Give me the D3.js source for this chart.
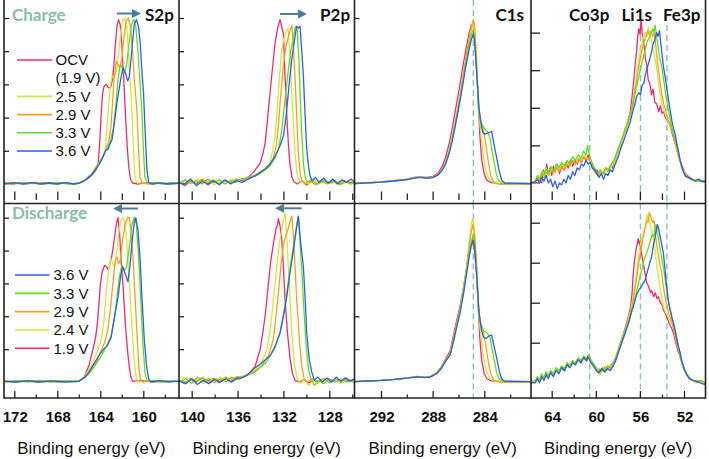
<!DOCTYPE html>
<html><head><meta charset="utf-8">
<script src="https://cdn.jsdelivr.net/npm/d3@7"></script>
<style>body{margin:0;background:#fff}svg{display:block}</style>
</head><body><svg id="c" width="709" height="459"></svg>
<script>
// ---------- tick labels ----------
const S2P_MAJOR=[172,168,164,160], S2P_MINOR=[170,166,162,158];
const P2P_MAJOR=[140,136,132,128], P2P_MINOR=[138,134,130,126];
const C1S_MAJOR=[292,288,284], C1S_MINOR=[290,286,282];
const LI_MAJOR=[64,60,56,52], LI_MINOR=[62,58,54];
const Y_TICKS=[0.2,0.4,0.6,0.8,1.0], Y_TICKS_LI=[0.2,0.4,0.6,0.8];
const C1S_REF=[284.85], LI_REFS=[60.55,55.95,53.55];
const PANEL_TITLES=["S2p","P2p","C1s"], LI_TITLES=["Co3p","Li1s","Fe3p"];
const ROW_TITLES=["Charge","Discharge"];
const AXIS_TITLE="Binding energy (eV)";
const CHARGE_LABELS=["OCV\n(1.9 V)","2.5 V","2.9 V","3.3 V","3.6 V"];
const DISCHARGE_LABELS=["3.6 V","3.3 V","2.9 V","2.4 V","1.9 V"];

// ---------- S2p charge ----------
const S2P_CHG_OCV=[[172.9,0.006],[172.2,0],[171.5,0.01],[170.8,0.002],[170.1,0.009],[169.4,0],[168.7,0.008],[168,0.001],[167.3,0.007],[166.6,0],[166,0.006],[165.5,0.02],[165.1,0.035],[164.7,0.06],[164.4,0.085],[164.2,0.12],[164.05,0.25],[163.92,0.42],[163.8,0.54],[163.65,0.59],[163.45,0.6],[163.25,0.58],[163.05,0.58],[162.9,0.62],[162.75,0.7],[162.6,0.84],[162.45,0.95],[162.3,0.99],[162.15,0.96],[162,0.84],[161.83,0.65],[161.65,0.4],[161.5,0.23],[161.35,0.1],[161.2,0.03],[161,0.006],[160.5,0],[159.8,0.008],[159.1,0],[158.4,0.007],[157.7,0],[156.6,0.005]];
const S2P_CHG_25=[[172.9,0],[172.1,0.009],[171.3,0.002],[170.5,0.01],[169.7,0],[168.9,0.007],[168.1,0],[167.3,0.009],[166.5,0],[166,0.005],[165.4,0.025],[164.8,0.06],[164.3,0.11],[163.9,0.15],[163.65,0.18],[163.52,0.22],[163.37,0.35],[163.2,0.5],[163.05,0.6],[162.9,0.65],[162.7,0.64],[162.5,0.68],[162.3,0.78],[162.1,0.92],[161.9,0.99],[161.75,1.0],[161.55,0.95],[161.4,0.82],[161.25,0.65],[161.06,0.45],[160.95,0.28],[160.85,0.12],[160.75,0.03],[160.55,0.005],[160,0.008],[159.2,0],[158.4,0.01],[157.6,0],[156.6,0.006]];
const S2P_CHG_29=[[172.9,0.008],[172,0],[171.1,0.01],[170.2,0.003],[169.3,0.009],[168.4,0],[167.5,0.008],[166.6,0],[166,0.005],[165.4,0.025],[164.8,0.06],[164.3,0.11],[163.9,0.15],[163.5,0.2],[163.2,0.26],[163,0.35],[162.85,0.5],[162.7,0.65],[162.5,0.74],[162.35,0.72],[162.2,0.7],[162,0.75],[161.8,0.88],[161.6,0.98],[161.4,1.0],[161.2,0.95],[161,0.8],[160.8,0.6],[160.6,0.45],[160.45,0.22],[160.3,0.04],[160.1,0.006],[159.5,0],[158.7,0.009],[157.9,0],[157.1,0.008],[156.6,0.002]];
const S2P_CHG_33=[[172.9,0.002],[172,0.01],[171,0],[170,0.009],[169,0.001],[168,0.01],[167,0],[166,0.005],[165.4,0.025],[164.8,0.06],[164.3,0.11],[163.9,0.15],[163.5,0.2],[163.1,0.25],[162.8,0.33],[162.55,0.48],[162.35,0.63],[162.15,0.72],[161.95,0.7],[161.75,0.67],[161.55,0.72],[161.35,0.83],[161.1,0.96],[160.9,0.99],[160.7,0.95],[160.5,0.8],[160.3,0.6],[160.14,0.45],[160,0.22],[159.85,0.04],[159.6,0.005],[159,0.009],[158.2,0],[157.4,0.01],[156.6,0]];
const S2P_CHG_36=[[172.9,0],[172,0.007],[171.2,0],[170.4,0.008],[169.6,0],[168.8,0.006],[168,0],[167.2,0.008],[166.4,0],[166,0.004],[165.4,0.022],[164.8,0.055],[164.3,0.1],[163.9,0.14],[163.5,0.2],[163.3,0.21],[163.06,0.245],[162.9,0.27],[162.75,0.34],[162.45,0.49],[162.13,0.62],[161.89,0.7],[161.67,0.67],[161.45,0.62],[161.3,0.65],[161.06,0.81],[160.85,0.96],[160.65,0.99],[160.45,0.95],[160.29,0.85],[160.1,0.65],[159.98,0.55],[159.85,0.35],[159.67,0.09],[159.5,0.01],[159.2,0],[158.5,0.007],[157.7,0],[156.6,0.006]];

// ---------- S2p discharge ----------
const S2P_DIS_19=[[172.9,0.005],[172,0],[171,0.008],[170,0],[169,0.008],[168,0],[167,0.007],[166,0.005],[165.5,0.03],[165.06,0.1],[164.75,0.18],[164.44,0.27],[164.25,0.37],[164.14,0.47],[163.98,0.6],[163.83,0.67],[163.6,0.71],[163.4,0.7],[163.25,0.68],[163.1,0.72],[162.95,0.76],[162.8,0.82],[162.6,0.92],[162.45,0.98],[162.35,1.0],[162.2,0.9],[162.05,0.72],[161.9,0.6],[161.83,0.53],[161.65,0.33],[161.45,0.18],[161.3,0.09],[161.15,0.03],[161,0.005],[160,0.008],[159,0],[158,0.007],[156.6,0.004]];
const S2P_DIS_24=[[172.9,0],[171.8,0.008],[170.6,0],[169.4,0.009],[168.2,0],[167,0.008],[166,0.005],[165.4,0.04],[164.9,0.09],[164.5,0.15],[164.2,0.2],[163.9,0.26],[163.65,0.38],[163.45,0.55],[163.25,0.68],[163,0.75],[162.85,0.72],[162.7,0.7],[162.5,0.78],[162.3,0.9],[162.1,0.98],[161.9,1.0],[161.75,0.98],[161.6,0.9],[161.4,0.72],[161.2,0.5],[161,0.28],[160.8,0.1],[160.65,0.02],[160.4,0],[159.5,0.008],[158.5,0],[157.5,0.007],[156.6,0]];
const S2P_DIS_29=[[172.9,0.007],[171.7,0],[170.5,0.009],[169.3,0],[168.1,0.008],[167,0],[166,0.004],[165.4,0.035],[164.9,0.07],[164.4,0.12],[164,0.18],[163.6,0.24],[163.3,0.32],[163.05,0.45],[162.8,0.62],[162.6,0.74],[162.45,0.76],[162.3,0.72],[162.15,0.74],[161.95,0.85],[161.7,0.96],[161.45,1.0],[161.3,1.0],[161.15,0.92],[160.95,0.75],[160.75,0.5],[160.55,0.25],[160.4,0.08],[160.25,0.01],[160,0],[159.2,0.009],[158.3,0],[157.4,0.008],[156.6,0.002]];
const S2P_DIS_33=[[172.9,0],[171.9,0.009],[170.8,0.001],[169.7,0.01],[168.6,0],[167.5,0.008],[166,0.004],[165.4,0.03],[164.9,0.06],[164.4,0.11],[163.9,0.16],[163.4,0.22],[163,0.28],[162.7,0.38],[162.45,0.52],[162.2,0.65],[161.98,0.71],[161.75,0.68],[161.55,0.7],[161.3,0.82],[161.05,0.96],[160.85,1.0],[160.65,0.96],[160.45,0.78],[160.25,0.52],[160.05,0.25],[159.85,0.06],[159.65,0.005],[159,0.009],[158,0],[157.2,0.008],[156.6,0]];
const S2P_DIS_36=[[172.9,0.004],[171.8,0],[170.7,0.008],[169.6,0],[168.5,0.007],[167.4,0],[166,0.004],[165.4,0.03],[165.06,0.06],[164.6,0.11],[164.14,0.16],[163.7,0.2],[163.37,0.22],[163,0.27],[162.75,0.37],[162.5,0.46],[162.3,0.54],[162.1,0.65],[161.92,0.7],[161.7,0.66],[161.43,0.61],[161.25,0.7],[161.05,0.85],[160.85,0.97],[160.7,1.0],[160.5,0.93],[160.3,0.75],[160.14,0.53],[159.9,0.25],[159.68,0.09],[159.5,0.02],[159.3,0],[158.5,0.008],[157.6,0],[156.6,0.006]];

// ---------- P2p charge ----------
const P2P_CHG_OCV=[[141.1,0.01],[140.6,-0.01],[140.1,0.02],[139.6,0],[139.1,0.025],[138.6,-0.005],[138.1,0.015],[137.6,0],[137.1,0.02],[136.6,0.005],[136.1,0.03],[135.6,0.02],[135.1,0.04],[134.62,0.07],[134.3,0.1],[134.04,0.125],[133.8,0.18],[133.6,0.245],[133.4,0.38],[133.17,0.55],[132.95,0.7],[132.73,0.85],[132.5,0.94],[132.3,0.99],[132.15,0.95],[132,0.9],[131.86,0.65],[131.75,0.48],[131.66,0.35],[131.55,0.22],[131.42,0.11],[131.25,0.04],[131.1,0.015],[130.8,0],[130.4,0.02],[130,-0.005],[129.5,0.015],[129,0],[128.5,0.02],[128,0.005],[127.5,0.02],[127,0],[126.5,0.015],[125.8,0.005]];
const P2P_CHG_25=[[141.1,0],[140.5,0.02],[140,0],[139.5,0.03],[139,0.01],[138.5,0.02],[138,-0.005],[137.5,0.02],[137,0.01],[136.5,0.03],[136,0.015],[135.5,0.035],[135,0.03],[134.5,0.05],[134,0.06],[133.6,0.09],[133.17,0.125],[132.95,0.2],[132.73,0.29],[132.58,0.42],[132.44,0.55],[132.3,0.68],[132.15,0.81],[131.95,0.88],[131.75,0.92],[131.6,0.94],[131.45,0.8],[131.27,0.55],[131.12,0.35],[130.99,0.19],[130.85,0.08],[130.7,0.03],[130.5,0.01],[130.2,0.02],[129.8,0],[129.3,0.025],[128.8,0.005],[128.3,0.02],[127.8,0],[127.3,0.015],[126.8,0],[126.3,0.02],[125.8,0.01]];
const P2P_CHG_29=[[141.1,0.015],[140.6,0],[140.1,0.02],[139.6,0.005],[139.1,0.03],[138.6,0.01],[138.1,0.025],[137.6,0],[137.1,0.02],[136.6,0.01],[136.1,0.03],[135.6,0.025],[135.1,0.04],[134.6,0.05],[134.1,0.07],[133.6,0.09],[133.17,0.11],[132.9,0.15],[132.6,0.24],[132.44,0.35],[132.3,0.48],[132.15,0.6],[132,0.72],[131.8,0.82],[131.6,0.88],[131.4,0.93],[131.27,0.955],[131.15,0.86],[130.99,0.65],[130.85,0.42],[130.7,0.19],[130.55,0.07],[130.4,0.02],[130.1,0],[129.7,0.02],[129.2,-0.005],[128.7,0.015],[128.2,0],[127.7,0.025],[127.2,0.005],[126.7,0.02],[126.2,0],[125.8,0.01]];
const P2P_CHG_33=[[141.1,0],[140.6,0.025],[140.1,0.005],[139.6,0.02],[139.1,0],[138.6,0.03],[138.1,0.01],[137.6,0.025],[137.1,0],[136.6,0.02],[136.1,0.01],[135.6,0.035],[135.1,0.03],[134.6,0.05],[134.1,0.065],[133.6,0.085],[133.17,0.11],[132.7,0.16],[132.4,0.22],[132.15,0.32],[131.95,0.45],[131.75,0.58],[131.55,0.7],[131.35,0.8],[131.15,0.88],[130.95,0.95],[130.8,0.93],[130.65,0.75],[130.55,0.55],[130.4,0.3],[130.26,0.125],[130.1,0.04],[129.9,0.01],[129.6,0.025],[129.1,0],[128.6,0.02],[128.1,0.005],[127.6,0.02],[127.1,-0.005],[126.6,0.015],[126.1,0],[125.8,0.015]];
const P2P_CHG_36=[[141.1,0.005],[140.6,0],[140.1,0.03],[139.6,-0.01],[139.1,0.015],[138.6,0],[138.1,0.02],[137.6,-0.005],[137.1,0.025],[136.6,0],[136.1,0.02],[135.6,0.01],[135.2,0.025],[134.9,0.035],[134.4,0.05],[134,0.07],[133.6,0.09],[133.17,0.12],[132.8,0.16],[132.58,0.19],[132.3,0.23],[132,0.29],[131.85,0.36],[131.71,0.45],[131.5,0.6],[131.27,0.75],[131.05,0.86],[130.85,0.95],[130.7,0.94],[130.55,0.95],[130.4,0.8],[130.26,0.65],[130.1,0.4],[129.97,0.21],[129.8,0.1],[129.68,0.05],[129.5,0.02],[129.2,0.04],[128.9,0.01],[128.5,0.035],[128.1,0.005],[127.7,0.03],[127.3,0],[126.9,0.025],[126.5,0.01],[126.1,0.03],[125.8,0.01]];

// ---------- P2p discharge ----------
const P2P_DIS_19=[[141.1,0.01],[140.6,-0.01],[140.1,0.02],[139.6,0],[139.1,0.025],[138.6,0.005],[138.1,0.02],[137.6,-0.005],[137.1,0.02],[136.6,0],[136.1,0.03],[135.5,0.03],[135,0.05],[134.47,0.095],[134.04,0.195],[133.8,0.3],[133.6,0.4],[133.45,0.5],[133.31,0.6],[133.1,0.74],[132.88,0.84],[132.65,0.93],[132.5,0.96],[132.44,0.995],[132.3,0.95],[132.15,0.87],[132,0.7],[131.86,0.5],[131.65,0.3],[131.42,0.14],[131.2,0.05],[130.99,0.01],[130.6,0],[130.2,0.015],[129.8,-0.005],[129.4,0.01],[129,0],[128.5,0.02],[128,0],[127.5,0.015],[127,-0.005],[126.5,0.01],[125.8,0]];
const P2P_DIS_24=[[141.1,0],[140.5,0.03],[140,0.005],[139.5,0.02],[139,-0.01],[138.5,0.025],[138,0],[137.5,0.03],[137,0.01],[136.5,0.025],[136,0.02],[135.5,0.03],[135,0.05],[134.5,0.07],[134,0.11],[133.7,0.15],[133.45,0.195],[133.2,0.3],[133.02,0.4],[132.8,0.55],[132.58,0.7],[132.35,0.85],[132.1,0.95],[131.95,1.0],[131.86,1.03],[131.7,0.88],[131.57,0.7],[131.42,0.5],[131.27,0.3],[131.05,0.12],[130.84,0.03],[130.5,-0.01],[130.2,0.015],[129.8,-0.02],[129.4,0.01],[129,-0.01],[128.5,0.02],[128,0],[127.5,0.02],[127,-0.01],[126.5,0.015],[125.8,0]];
const P2P_DIS_29=[[141.1,0.01],[140.5,0],[140,0.02],[139.5,0.005],[139,0.025],[138.5,0],[138,0.02],[137.5,0.01],[137,0.03],[136.5,0.015],[136,0.03],[135.5,0.035],[135,0.05],[134.5,0.07],[134,0.09],[133.3,0.16],[132.88,0.26],[132.65,0.4],[132.44,0.54],[132.2,0.72],[132,0.84],[131.8,0.89],[131.6,0.93],[131.45,0.97],[131.27,1.01],[131.1,0.85],[130.95,0.65],[130.84,0.5],[130.6,0.25],[130.4,0.095],[130.2,0.02],[129.9,0],[129.5,0.02],[129,0.005],[128.5,0.02],[128,-0.005],[127.5,0.02],[127,0.005],[126.5,0.02],[125.8,0.005]];
const P2P_DIS_33=[[141.1,0],[140.5,0.02],[140,-0.01],[139.5,0.03],[139,0.005],[138.5,0.02],[138,-0.005],[137.5,0.02],[137,0],[136.5,0.03],[136,0.015],[135.5,0.03],[135,0.045],[134.5,0.06],[134,0.09],[133.5,0.12],[132.8,0.2],[132.3,0.3],[131.9,0.45],[131.6,0.6],[131.3,0.75],[131,0.88],[130.8,0.97],[130.7,1.01],[130.55,0.85],[130.4,0.68],[130.26,0.5],[130.05,0.25],[129.82,0.08],[129.6,0.02],[129.3,-0.02],[128.9,0.01],[128.5,-0.01],[128,0.02],[127.5,0],[127,0.02],[126.5,0],[125.8,0.01]];
const P2P_DIS_36=[[141.1,0.005],[140.5,-0.01],[140,0.02],[139.5,-0.015],[139,0.01],[138.5,-0.01],[138,0.015],[137.5,0],[137,0.02],[136.5,0],[136,0.025],[135.8,0.02],[135.2,0.04],[134.62,0.08],[134,0.11],[133.17,0.16],[132.7,0.22],[132.29,0.3],[132,0.4],[131.71,0.52],[131.4,0.68],[131.13,0.8],[130.9,0.92],[130.7,1.01],[130.5,0.85],[130.26,0.7],[130.1,0.5],[129.97,0.3],[129.75,0.14],[129.53,0.06],[129.3,0.01],[129,0.03],[128.6,0],[128.2,0.025],[127.8,0],[127.4,0.03],[127,0.005],[126.6,0.025],[126.2,0.005],[125.8,0.02]];

// ---------- C1s charge ----------
const C1S_CHG_OCV=[[294.05,0.004],[293,0.008],[292,0.012],[291,0.02],[290,0.03],[289.4,0.04],[289,0.045],[288.5,0.04],[288,0.045],[287.6,0.065],[287.3,0.1],[287,0.16],[286.7,0.25],[286.45,0.35],[286.2,0.46],[285.95,0.57],[285.7,0.69],[285.45,0.8],[285.2,0.9],[285,0.96],[284.85,0.95],[284.7,0.82],[284.6,0.7],[284.47,0.5],[284.35,0.3],[284.2,0.145],[284,0.06],[283.82,0.024],[283.5,0.01],[283,0.003],[282,0],[280.4,0]];
const C1S_CHG_25=[[294.05,0.002],[293,0.007],[292,0.012],[291,0.02],[290,0.028],[289.4,0.038],[289,0.044],[288.5,0.038],[288,0.04],[287.6,0.058],[287.3,0.085],[287,0.13],[286.7,0.21],[286.45,0.3],[286.2,0.4],[285.95,0.5],[285.7,0.62],[285.45,0.74],[285.2,0.85],[285,0.93],[284.85,0.96],[284.75,0.9],[284.6,0.72],[284.45,0.47],[284.34,0.36],[284.2,0.26],[284.08,0.165],[283.85,0.07],[283.56,0.024],[283.2,0.005],[282,0],[280.4,0.002]];
const C1S_CHG_29=[[294.05,0.003],[293,0.007],[292,0.011],[291,0.019],[290,0.027],[289.4,0.037],[289,0.043],[288.5,0.037],[288,0.04],[287.6,0.057],[287.3,0.083],[287,0.13],[286.7,0.2],[286.45,0.29],[286.2,0.39],[285.95,0.5],[285.7,0.62],[285.45,0.75],[285.2,0.87],[285,0.95],[284.85,0.99],[284.75,0.96],[284.6,0.75],[284.45,0.48],[284.3,0.37],[284.08,0.33],[283.9,0.25],[283.7,0.14],[283.5,0.05],[283.25,0.01],[282.8,0],[280.4,0.002]];
const C1S_CHG_33=[[294.05,0.002],[293,0.006],[292,0.011],[291,0.018],[290,0.027],[289.4,0.036],[289,0.042],[288.5,0.036],[288,0.039],[287.6,0.055],[287.3,0.08],[287,0.125],[286.7,0.195],[286.45,0.28],[286.2,0.38],[285.95,0.48],[285.7,0.6],[285.45,0.72],[285.2,0.83],[285,0.9],[284.85,0.93],[284.75,0.88],[284.6,0.7],[284.45,0.45],[284.3,0.38],[284.05,0.34],[283.8,0.32],[283.56,0.28],[283.4,0.2],[283.3,0.16],[283.1,0.07],[282.9,0.02],[282.6,0.005],[280.4,0.002]];
const C1S_CHG_36=[[294.05,0.003],[293,0.007],[292,0.011],[291,0.018],[290,0.026],[289.4,0.035],[289,0.04],[288.5,0.035],[288,0.038],[287.6,0.053],[287.3,0.078],[287,0.12],[286.7,0.19],[286.45,0.27],[286.2,0.37],[285.95,0.47],[285.7,0.58],[285.45,0.7],[285.2,0.8],[285,0.87],[284.85,0.906],[284.75,0.86],[284.6,0.68],[284.4,0.45],[284.2,0.34],[284.08,0.305],[283.9,0.3],[283.65,0.31],[283.43,0.315],[283.25,0.24],[283.05,0.16],[282.85,0.08],[282.66,0.024],[282.4,0.005],[280.4,0.003]];

// ---------- C1s discharge ----------
const C1S_DIS_19=[[294.05,0.002],[293,0.006],[292,0.01],[291,0.016],[290,0.024],[289.24,0.034],[288.6,0.03],[288.2,0.032],[287.69,0.056],[287.3,0.095],[287,0.14],[286.64,0.19],[286.4,0.28],[286.15,0.37],[285.88,0.46],[285.6,0.58],[285.37,0.69],[285.15,0.79],[285,0.85],[284.9,0.87],[284.75,0.8],[284.6,0.66],[284.47,0.45],[284.35,0.27],[284.2,0.13],[284,0.05],[283.8,0.02],[283.4,0.005],[282,0],[280.4,0.002]];
const C1S_DIS_24=[[294.05,0.002],[293,0.006],[292,0.01],[291,0.016],[290,0.024],[289.24,0.032],[288.6,0.028],[288.2,0.03],[287.69,0.053],[287.3,0.09],[287,0.13],[286.64,0.175],[286.4,0.26],[286.15,0.35],[285.88,0.44],[285.6,0.57],[285.37,0.7],[285.15,0.86],[285,0.96],[284.88,0.995],[284.75,0.9],[284.6,0.7],[284.45,0.45],[284.34,0.33],[284.2,0.25],[284.08,0.16],[283.85,0.07],[283.56,0.02],[283.2,0.005],[282,0],[280.4,0.002]];
const C1S_DIS_29=[[294.05,0.002],[293,0.006],[292,0.01],[291,0.016],[290,0.024],[289.24,0.032],[288.6,0.028],[288.2,0.03],[287.69,0.053],[287.3,0.09],[287,0.13],[286.64,0.175],[286.4,0.26],[286.15,0.35],[285.88,0.44],[285.6,0.57],[285.37,0.7],[285.15,0.84],[285,0.92],[284.85,0.96],[284.75,0.9],[284.6,0.72],[284.45,0.46],[284.3,0.35],[284.08,0.3],[283.9,0.23],[283.7,0.13],[283.5,0.05],[283.25,0.01],[282.8,0],[280.4,0.002]];
const C1S_DIS_33=[[294.05,0.002],[293,0.006],[292,0.01],[291,0.016],[290,0.024],[289.24,0.032],[288.6,0.028],[288.2,0.03],[287.69,0.052],[287.3,0.088],[287,0.128],[286.64,0.17],[286.4,0.25],[286.15,0.34],[285.88,0.43],[285.6,0.56],[285.37,0.68],[285.15,0.8],[285,0.86],[284.85,0.9],[284.75,0.85],[284.6,0.68],[284.45,0.44],[284.3,0.36],[284.05,0.31],[283.8,0.3],[283.56,0.27],[283.4,0.2],[283.25,0.14],[283.05,0.06],[282.85,0.02],[282.6,0.005],[280.4,0.002]];
const C1S_DIS_36=[[294.05,0.002],[293,0.006],[292,0.01],[291,0.015],[290,0.023],[289.24,0.031],[288.6,0.027],[288.2,0.03],[287.69,0.05],[287.3,0.085],[287,0.125],[286.64,0.165],[286.4,0.24],[286.15,0.33],[285.88,0.42],[285.6,0.54],[285.37,0.66],[285.15,0.77],[285,0.83],[284.85,0.86],[284.75,0.82],[284.6,0.66],[284.4,0.42],[284.2,0.31],[284.05,0.27],[283.85,0.265],[283.65,0.28],[283.43,0.286],[283.25,0.22],[283.05,0.15],[282.85,0.07],[282.66,0.02],[282.4,0.005],[280.4,0.002]];

// ---------- Co3p / Li1s / Fe3p charge ----------
const LI_CHG_OCV=[[65.9,0],[65.4,0],[64.9,0.002],[64.75,0.07],[64.6,0.03],[64.45,0.1],[64.3,0.05],[64.15,0.08],[64,0.04],[63.85,0.09],[63.7,0.06],[63.5,0.1],[63.3,0.05],[63.1,0.09],[62.9,0.07],[62.7,0.11],[62.5,0.08],[62.3,0.12],[62.1,0.09],[61.9,0.12],[61.7,0.1],[61.5,0.13],[61.3,0.11],[61.1,0.14],[60.9,0.12],[60.7,0.15],[60.5,0.11],[60.3,0.1],[60.1,0.06],[59.9,0.07],[59.7,0.04],[59.5,0.06],[59.3,0.05],[59.1,0.08],[58.9,0.06],[58.7,0.09],[58.5,0.08],[58.3,0.11],[58.1,0.14],[57.9,0.18],[57.7,0.2],[57.5,0.25],[57.3,0.28],[57.1,0.33],[56.9,0.37],[56.75,0.44],[56.6,0.52],[56.45,0.62],[56.3,0.7],[56.2,0.78],[56.1,0.82],[55.98,0.79],[55.9,0.87],[55.8,0.8],[55.7,0.77],[55.6,0.72],[55.5,0.66],[55.38,0.63],[55.25,0.55],[55.1,0.53],[54.95,0.47],[54.8,0.5],[54.65,0.43],[54.47,0.42],[54.3,0.38],[54.15,0.41],[54,0.37],[53.85,0.38],[53.7,0.35],[53.5,0.33],[53.3,0.31],[53.1,0.27],[52.9,0.23],[52.7,0.19],[52.5,0.14],[52.3,0.11],[52.1,0.08],[51.9,0.05],[51.7,0.04],[51.5,0.03],[51.2,0.02],[50.9,0.01],[50.6,0.02],[50.1,0.005]];
const LI_CHG_25=[[65.9,0],[65.5,0.01],[65.2,0.04],[65,0.02],[64.8,0.06],[64.6,0.04],[64.4,0.07],[64.2,0.05],[64,0.08],[63.8,0.06],[63.55,0.09],[63.3,0.07],[63.05,0.1],[62.8,0.08],[62.55,0.11],[62.3,0.09],[62.05,0.12],[61.8,0.1],[61.55,0.13],[61.3,0.12],[61.05,0.15],[60.8,0.13],[60.55,0.12],[60.3,0.09],[60.05,0.06],[59.8,0.035],[59.55,0.05],[59.3,0.04],[59.05,0.07],[58.8,0.06],[58.55,0.09],[58.3,0.11],[58.05,0.15],[57.8,0.19],[57.55,0.23],[57.3,0.28],[57.05,0.32],[56.8,0.38],[56.55,0.46],[56.3,0.57],[56.1,0.66],[55.9,0.72],[55.7,0.77],[55.5,0.8],[55.35,0.78],[55.24,0.83],[55.1,0.79],[54.95,0.76],[54.8,0.71],[54.65,0.67],[54.47,0.61],[54.3,0.53],[54.15,0.47],[54,0.42],[53.8,0.38],[53.6,0.35],[53.4,0.32],[53.2,0.29],[52.96,0.26],[52.75,0.2],[52.55,0.15],[52.35,0.11],[52.15,0.07],[51.95,0.05],[51.7,0.03],[51.4,0.02],[51.1,0.012],[50.7,0.02],[50.1,0.01]];
const LI_CHG_29=[[65.9,0],[65.5,0.005],[65.3,0.03],[65.1,0.01],[64.9,0.05],[64.7,0.03],[64.5,0.06],[64.3,0.04],[64.1,0.07],[63.85,0.05],[63.6,0.08],[63.35,0.06],[63.1,0.09],[62.85,0.07],[62.6,0.1],[62.35,0.09],[62.1,0.12],[61.85,0.1],[61.6,0.13],[61.35,0.11],[61.1,0.14],[60.85,0.12],[60.6,0.13],[60.35,0.08],[60.1,0.06],[59.85,0.04],[59.6,0.06],[59.35,0.05],[59.1,0.08],[58.85,0.07],[58.6,0.1],[58.35,0.12],[58.1,0.16],[57.85,0.2],[57.6,0.24],[57.35,0.29],[57.1,0.33],[56.85,0.37],[56.6,0.44],[56.35,0.53],[56.1,0.62],[55.9,0.68],[55.7,0.74],[55.5,0.77],[55.3,0.81],[55.15,0.79],[55,0.81],[54.85,0.78],[54.7,0.8],[54.55,0.72],[54.4,0.64],[54.17,0.53],[54,0.47],[53.8,0.41],[53.6,0.37],[53.4,0.33],[53.2,0.3],[53,0.26],[52.8,0.22],[52.6,0.17],[52.4,0.13],[52.2,0.09],[52,0.06],[51.75,0.04],[51.5,0.025],[51.2,0.015],[50.8,0.01],[50.1,0.005]];
const LI_CHG_33=[[65.9,0],[65.5,0.01],[65.3,0.04],[65.1,0.02],[64.9,0.06],[64.7,0.04],[64.5,0.08],[64.3,0.05],[64.1,0.09],[63.85,0.06],[63.6,0.1],[63.35,0.08],[63.1,0.11],[62.85,0.09],[62.6,0.12],[62.35,0.1],[62.1,0.14],[61.85,0.12],[61.6,0.15],[61.35,0.13],[61.1,0.17],[60.9,0.15],[60.75,0.2],[60.55,0.14],[60.35,0.11],[60.1,0.08],[59.85,0.05],[59.6,0.07],[59.35,0.05],[59.1,0.08],[58.85,0.07],[58.6,0.1],[58.35,0.12],[58.1,0.16],[57.85,0.2],[57.6,0.24],[57.35,0.28],[57.1,0.32],[56.85,0.36],[56.6,0.42],[56.35,0.5],[56.1,0.57],[55.85,0.63],[55.6,0.69],[55.4,0.74],[55.2,0.77],[55,0.79],[54.85,0.82],[54.72,0.8],[54.63,0.84],[54.5,0.79],[54.35,0.72],[54.2,0.66],[54.02,0.62],[53.85,0.55],[53.65,0.47],[53.42,0.39],[53.2,0.32],[53,0.27],[52.8,0.23],[52.6,0.18],[52.4,0.13],[52.2,0.08],[51.95,0.05],[51.7,0.03],[51.4,0.02],[51,0.01],[50.5,0.015],[50.1,0.005]];
const LI_CHG_36=[[65.9,0],[65.5,0.005],[65.3,0.02],[65.1,0],[64.9,0.03],[64.7,0.01],[64.5,0.04],[64.3,0],[64.1,0.02],[63.9,-0.02],[63.7,0.01],[63.5,-0.03],[63.3,0],[63.1,-0.01],[62.9,0.02],[62.7,0],[62.5,0.04],[62.3,0.02],[62.1,0.06],[61.9,0.04],[61.7,0.08],[61.5,0.07],[61.3,0.1],[61.1,0.09],[60.9,0.12],[60.7,0.1],[60.5,0.11],[60.3,0.08],[60.1,0.07],[59.9,0.05],[59.7,0.03],[59.5,0.05],[59.3,0.02],[59.1,0.05],[58.9,0.04],[58.7,0.07],[58.5,0.06],[58.3,0.09],[58.1,0.12],[57.9,0.15],[57.7,0.19],[57.5,0.22],[57.2,0.27],[56.9,0.32],[56.6,0.39],[56.45,0.42],[56.29,0.46],[56.1,0.48],[55.95,0.47],[55.8,0.52],[55.65,0.53],[55.54,0.565],[55.4,0.6],[55.25,0.63],[55.1,0.66],[54.93,0.7],[54.8,0.74],[54.65,0.76],[54.5,0.8],[54.35,0.78],[54.23,0.81],[54.1,0.74],[53.98,0.68],[53.87,0.62],[53.7,0.56],[53.55,0.5],[53.4,0.44],[53.26,0.39],[53.1,0.33],[52.95,0.29],[52.8,0.26],[52.65,0.21],[52.5,0.17],[52.35,0.12],[52.2,0.09],[52.05,0.06],[51.85,0.035],[51.6,0.03],[51.3,0.02],[51,0.012],[50.7,0.02],[50.4,0.008],[50.1,0.01]];

// ---------- Co3p / Li1s / Fe3p discharge ----------
const LI_DIS_19=[[65.9,0],[65.5,0],[65.3,0.02],[65.1,0.005],[64.9,0.04],[64.7,0.02],[64.5,0.05],[64.3,0.03],[64.1,0.06],[63.85,0.04],[63.6,0.07],[63.35,0.05],[63.1,0.08],[62.85,0.06],[62.6,0.09],[62.35,0.08],[62.1,0.1],[61.85,0.09],[61.6,0.12],[61.35,0.1],[61.1,0.13],[60.85,0.11],[60.65,0.13],[60.4,0.1],[60.15,0.08],[59.9,0.06],[59.65,0.05],[59.4,0.07],[59.15,0.06],[58.9,0.08],[58.65,0.07],[58.42,0.09],[58.2,0.12],[57.95,0.16],[57.7,0.21],[57.5,0.24],[57.25,0.29],[57,0.34],[56.85,0.38],[56.72,0.44],[56.6,0.55],[56.45,0.63],[56.3,0.68],[56.15,0.72],[56.05,0.69],[55.95,0.71],[55.84,0.64],[55.7,0.6],[55.55,0.55],[55.38,0.5],[55.2,0.48],[55.05,0.45],[54.93,0.46],[54.75,0.43],[54.6,0.45],[54.45,0.42],[54.32,0.43],[54.15,0.4],[54,0.39],[53.85,0.36],[53.72,0.35],[53.5,0.32],[53.3,0.29],[53.1,0.27],[52.96,0.25],[52.75,0.2],[52.55,0.16],[52.35,0.13],[52.15,0.09],[51.95,0.06],[51.75,0.04],[51.5,0.02],[51.2,0.01],[50.8,0],[50.4,0.01],[50.1,-0.005]];
const LI_DIS_24=[[65.9,0],[65.5,0],[65.3,0.03],[65.1,0.01],[64.9,0.04],[64.7,0.02],[64.5,0.05],[64.3,0.03],[64.1,0.06],[63.85,0.05],[63.6,0.07],[63.35,0.05],[63.1,0.08],[62.85,0.07],[62.6,0.1],[62.35,0.08],[62.1,0.11],[61.85,0.09],[61.6,0.12],[61.35,0.11],[61.1,0.13],[60.85,0.12],[60.6,0.14],[60.35,0.09],[60.1,0.07],[59.85,0.05],[59.6,0.04],[59.35,0.06],[59.1,0.05],[58.85,0.08],[58.6,0.07],[58.35,0.1],[58.1,0.13],[57.85,0.18],[57.6,0.22],[57.35,0.26],[57.1,0.31],[56.85,0.36],[56.6,0.43],[56.4,0.5],[56.2,0.6],[56,0.68],[55.85,0.72],[55.7,0.74],[55.55,0.78],[55.45,0.8],[55.38,0.84],[55.25,0.8],[55.15,0.82],[55,0.77],[54.9,0.76],[54.78,0.72],[54.65,0.67],[54.5,0.6],[54.32,0.53],[54.15,0.46],[54,0.42],[53.87,0.38],[53.65,0.35],[53.45,0.33],[53.25,0.31],[53.05,0.29],[52.85,0.25],[52.65,0.2],[52.45,0.16],[52.25,0.12],[52.05,0.08],[51.85,0.05],[51.6,0.03],[51.3,0.015],[51,0],[50.6,0.01],[50.1,0]];
const LI_DIS_29=[[65.9,0],[65.5,0.01],[65.3,0.025],[65.1,0.01],[64.9,0.035],[64.7,0.02],[64.5,0.05],[64.3,0.03],[64.1,0.055],[63.85,0.04],[63.6,0.07],[63.35,0.05],[63.1,0.08],[62.85,0.06],[62.6,0.09],[62.35,0.08],[62.1,0.11],[61.85,0.09],[61.6,0.12],[61.35,0.1],[61.1,0.13],[60.85,0.12],[60.65,0.14],[60.4,0.1],[60.15,0.08],[59.9,0.06],[59.65,0.07],[59.4,0.06],[59.15,0.08],[58.9,0.07],[58.65,0.09],[58.42,0.1],[58.2,0.13],[57.95,0.17],[57.7,0.21],[57.45,0.25],[57.2,0.29],[56.95,0.33],[56.7,0.38],[56.5,0.45],[56.3,0.52],[56.1,0.6],[55.9,0.66],[55.7,0.73],[55.55,0.77],[55.4,0.8],[55.25,0.81],[55.15,0.85],[55.08,0.84],[54.95,0.82],[54.8,0.8],[54.7,0.81],[54.55,0.72],[54.42,0.67],[54.3,0.63],[54.15,0.58],[54.02,0.55],[53.9,0.49],[53.75,0.44],[53.55,0.38],[53.35,0.34],[53.15,0.31],[52.95,0.27],[52.75,0.22],[52.55,0.17],[52.35,0.13],[52.15,0.09],[51.95,0.06],[51.7,0.035],[51.4,0.02],[51,0.005],[50.6,0.01],[50.1,0]];
const LI_DIS_33=[[65.9,0],[65.5,0.005],[65.3,0.03],[65.1,0.015],[64.9,0.045],[64.7,0.025],[64.5,0.055],[64.3,0.035],[64.1,0.06],[63.85,0.045],[63.6,0.075],[63.35,0.06],[63.1,0.085],[62.85,0.07],[62.6,0.1],[62.35,0.085],[62.1,0.11],[61.85,0.1],[61.6,0.125],[61.35,0.11],[61.1,0.135],[60.85,0.12],[60.65,0.14],[60.4,0.11],[60.15,0.09],[59.9,0.07],[59.65,0.06],[59.4,0.075],[59.15,0.065],[58.9,0.085],[58.65,0.075],[58.42,0.09],[58.2,0.12],[57.95,0.16],[57.7,0.2],[57.45,0.24],[57.2,0.28],[56.95,0.32],[56.7,0.36],[56.45,0.42],[56.2,0.48],[56,0.53],[55.8,0.57],[55.6,0.62],[55.38,0.65],[55.2,0.68],[55.05,0.71],[54.9,0.74],[54.75,0.73],[54.62,0.77],[54.54,0.79],[54.42,0.75],[54.3,0.72],[54.2,0.68],[54.1,0.65],[53.98,0.61],[53.87,0.58],[53.72,0.52],[53.6,0.47],[53.45,0.42],[53.3,0.38],[53.15,0.34],[52.96,0.3],[52.8,0.26],[52.65,0.22],[52.5,0.18],[52.35,0.14],[52.2,0.1],[52.05,0.08],[51.85,0.05],[51.6,0.03],[51.3,0.015],[50.9,0.005],[50.5,0.012],[50.1,0]];
const LI_DIS_36=[[65.9,0],[65.5,0],[65.3,0.02],[65.1,0],[64.9,0.03],[64.7,0.01],[64.5,0.04],[64.3,0.02],[64.1,0.05],[63.85,0.03],[63.6,0.06],[63.35,0.045],[63.1,0.075],[62.85,0.06],[62.6,0.09],[62.35,0.075],[62.1,0.1],[61.85,0.09],[61.6,0.115],[61.35,0.1],[61.1,0.125],[60.85,0.11],[60.7,0.13],[60.45,0.1],[60.2,0.085],[59.95,0.06],[59.7,0.05],[59.45,0.07],[59.2,0.055],[58.95,0.07],[58.7,0.06],[58.45,0.08],[58.2,0.11],[57.95,0.15],[57.7,0.19],[57.45,0.23],[57.2,0.27],[56.95,0.31],[56.75,0.36],[56.6,0.38],[56.45,0.41],[56.3,0.44],[56.14,0.46],[56,0.47],[55.85,0.48],[55.7,0.5],[55.54,0.51],[55.4,0.54],[55.25,0.57],[55.1,0.6],[54.93,0.63],[54.8,0.68],[54.65,0.72],[54.52,0.76],[54.41,0.79],[54.3,0.77],[54.2,0.74],[54.05,0.7],[53.95,0.67],[53.87,0.65],[53.75,0.58],[53.65,0.52],[53.52,0.46],[53.42,0.41],[53.3,0.37],[53.2,0.35],[53.08,0.32],[52.96,0.3],[52.8,0.26],[52.65,0.22],[52.5,0.18],[52.35,0.15],[52.2,0.11],[52.1,0.09],[51.9,0.06],[51.7,0.035],[51.5,0.02],[51.2,0.012],[51,0.01],[50.6,0],[50.1,-0.01]];

// ---------- styles & layout ----------
const RED="#ee2c6c", YEL="#d3e83c", ORA="#f0a323", GRN="#62dc22", BLU="#2f5fe2";
const CHARGE_COLORS=[RED,YEL,ORA,GRN,BLU];
const DISCHARGE_COLORS=[BLU,GRN,ORA,YEL,RED];
const FRAME="#222", DASH="#8ebdbd", ARROW="#4a7c9c", TITLE_TEAL="#8dbab2";
const SANS="'Liberation Sans', Arial, sans-serif";
const TF="Lato, 'Open Sans', sans-serif";

const COLS=[
  {x0:4,x1:179,dom:[172,160],rng:[14.3,143.3],major:S2P_MAJOR,minor:S2P_MINOR},
  {x0:179,x1:354.5,dom:[140,128],rng:[191.7,329.3],major:P2P_MAJOR,minor:P2P_MINOR},
  {x0:354.5,x1:531,dom:[292,284],rng:[381,484.3],major:C1S_MAJOR,minor:C1S_MINOR},
  {x0:531,x1:705.5,dom:[64,52],rng:[551.7,684],major:LI_MAJOR,minor:LI_MINOR}
];
const ROWS=[
  {y0:0,y1:203.5,tickBase:200,majLen:8.5,minLen:6.5,
   yStd:{dom:[0,1],rng:[184,18]},yLi:{dom:[0,0.8],rng:[183,32.6]},
   series:[[S2P_CHG_OCV,S2P_CHG_25,S2P_CHG_29,S2P_CHG_33,S2P_CHG_36],
           [P2P_CHG_OCV,P2P_CHG_25,P2P_CHG_29,P2P_CHG_33,P2P_CHG_36],
           [C1S_CHG_OCV,C1S_CHG_25,C1S_CHG_29,C1S_CHG_33,C1S_CHG_36],
           [LI_CHG_OCV,LI_CHG_25,LI_CHG_29,LI_CHG_33,LI_CHG_36]],
   colors:[RED,YEL,ORA,GRN,BLU]},
  {y0:203.5,y1:398,tickBase:398,majLen:7,minLen:3.5,
   yStd:{dom:[0,1],rng:[382,217.7]},yLi:{dom:[0,0.8],rng:[382.7,222.7]},
   series:[[S2P_DIS_19,S2P_DIS_24,S2P_DIS_29,S2P_DIS_33,S2P_DIS_36],
           [P2P_DIS_19,P2P_DIS_24,P2P_DIS_29,P2P_DIS_33,P2P_DIS_36],
           [C1S_DIS_19,C1S_DIS_24,C1S_DIS_29,C1S_DIS_33,C1S_DIS_36],
           [LI_DIS_19,LI_DIS_24,LI_DIS_29,LI_DIS_33,LI_DIS_36]],
   colors:[RED,YEL,ORA,GRN,BLU]}
];

const svg=d3.select("#c");
const defs=svg.append("defs");
const xScales=COLS.map(c=>d3.scaleLinear().domain(c.dom).range(c.rng));

ROWS.forEach((row,ri)=>{
  COLS.forEach((col,ci)=>{
    const x=xScales[ci];
    const yc=ci===3?row.yLi:row.yStd;
    const y=d3.scaleLinear().domain(yc.dom).range(yc.rng);
    const id="clip"+ri+ci;
    defs.append("clipPath").attr("id",id).append("rect")
      .attr("x",col.x0).attr("y",row.y0).attr("width",col.x1-col.x0).attr("height",row.y1-row.y0);
    const g=svg.append("g").attr("clip-path","url(#"+id+")");
    const refs=ci===2?C1S_REF:(ci===3?LI_REFS:[]);
    refs.forEach(e=>{
      g.append("line").attr("x1",x(e)).attr("x2",x(e))
        .attr("y1",ci===3&&ri===0?25:row.y0).attr("y2",row.y1)
        .attr("stroke",DASH).attr("stroke-width",1.4).attr("stroke-dasharray","6,4");
    });
    const line=d3.line().x(d=>x(d[0])).y(d=>y(d[1]));
    row.series[ci].forEach((s,si)=>{
      g.append("path").datum(s).attr("d",line).attr("fill","none")
        .attr("stroke",row.colors[si]).attr("stroke-width",1.3).attr("stroke-linejoin","round");
    });
    const yAx=d3.axisRight(y).tickValues(ci===3?Y_TICKS_LI:Y_TICKS).tickSize(ci===3?9:5).tickFormat("");
    const ga=svg.append("g").attr("transform","translate("+col.x0+",0)").call(yAx);
    ga.select(".domain").remove();
    ga.selectAll("line").attr("stroke",FRAME).attr("stroke-width",1.3);
    [[col.major,row.majLen],[col.minor,row.minLen]].forEach(([vals,len])=>{
      const xa=d3.axisTop(x).tickValues(vals).tickSize(len).tickFormat("");
      const gx=svg.append("g").attr("transform","translate(0,"+row.tickBase+")").call(xa);
      gx.select(".domain").remove();
      gx.selectAll("line").attr("stroke",FRAME).attr("stroke-width",1.3);
    });
  });
});

const fr=svg.append("g").attr("stroke",FRAME).attr("stroke-width",1.6);
[4,179,354.5,531,705.5].forEach(xv=>fr.append("line").attr("x1",xv).attr("x2",xv).attr("y1",0).attr("y2",398.8));
[203.5,398].forEach(yv=>fr.append("line").attr("x1",4).attr("x2",705.5).attr("y1",yv).attr("y2",yv));

COLS.forEach((col,ci)=>{
  const x=xScales[ci];
  col.major.forEach(v=>{
    svg.append("text").attr("x",x(v)+1).attr("y",422.3).attr("text-anchor","middle")
      .style("font-family",SANS).attr("font-weight","bold")
      .attr("font-size",15).attr("fill","#111").text(v);
  });
  svg.append("text").attr("x",(col.x0+col.x1)/2).attr("y",453.5).attr("text-anchor","middle")
    .style("font-family",SANS).attr("font-size",16.8).attr("fill","#111")
    .text(AXIS_TITLE);
});

svg.append("text").attr("x",12).attr("y",20.5).style("font-family",TF).attr("font-weight","bold")
  .attr("font-size",17).attr("fill",TITLE_TEAL).text(ROW_TITLES[0]);
svg.append("text").attr("x",12).attr("y",219).style("font-family",TF).attr("font-weight","bold")
  .attr("font-size",17).attr("fill",TITLE_TEAL).text(ROW_TITLES[1]);
[[PANEL_TITLES[0],145],[PANEL_TITLES[1],320],[PANEL_TITLES[2],495.5],[LI_TITLES[0],569],[LI_TITLES[1],621.5],[LI_TITLES[2],663]]
  .forEach(([t,xp])=>svg.append("text").attr("x",xp).attr("y",20.5).style("font-family",TF)
    .attr("font-weight","bold").attr("font-size",17).attr("fill","#111").text(t));

function arrow(xa,xb,yv){
  const dir=xb>xa?1:-1;
  svg.append("line").attr("x1",xa).attr("x2",xb-dir*6).attr("y1",yv).attr("y2",yv)
    .attr("stroke",ARROW).attr("stroke-width",2);
  svg.append("path").attr("d",`M${xb},${yv} L${xb-dir*9},${yv-4.5} L${xb-dir*9},${yv+4.5} Z`).attr("fill",ARROW);
}
arrow(117,141,13.5); arrow(280,307,14);
arrow(138,113,208.5); arrow(301.5,275,208.3);

let lrow=0;
CHARGE_LABELS.forEach((lab,i)=>{
  const yv=60+lrow*18.2;
  svg.append("line").attr("x1",17).attr("x2",52).attr("y1",yv).attr("y2",yv)
    .attr("stroke",CHARGE_COLORS[i]).attr("stroke-width",1.6);
  const parts=lab.split("\n");
  parts.forEach((part,k)=>{
    svg.append("text").attr("x",55.5).attr("y",yv+k*18.2+5.2).style("font-family",SANS)
      .attr("font-size",15).attr("fill","#111").text(part);
  });
  lrow+=parts.length;
});
DISCHARGE_LABELS.forEach((lab,i)=>{
  const yv=275+i*18.33;
  svg.append("line").attr("x1",15).attr("x2",49.5).attr("y1",yv).attr("y2",yv)
    .attr("stroke",DISCHARGE_COLORS[i]).attr("stroke-width",1.6);
  svg.append("text").attr("x",53.5).attr("y",yv+5.2).style("font-family",SANS)
    .attr("font-size",15).attr("fill","#111").text(lab);
});
</script></body></html>
